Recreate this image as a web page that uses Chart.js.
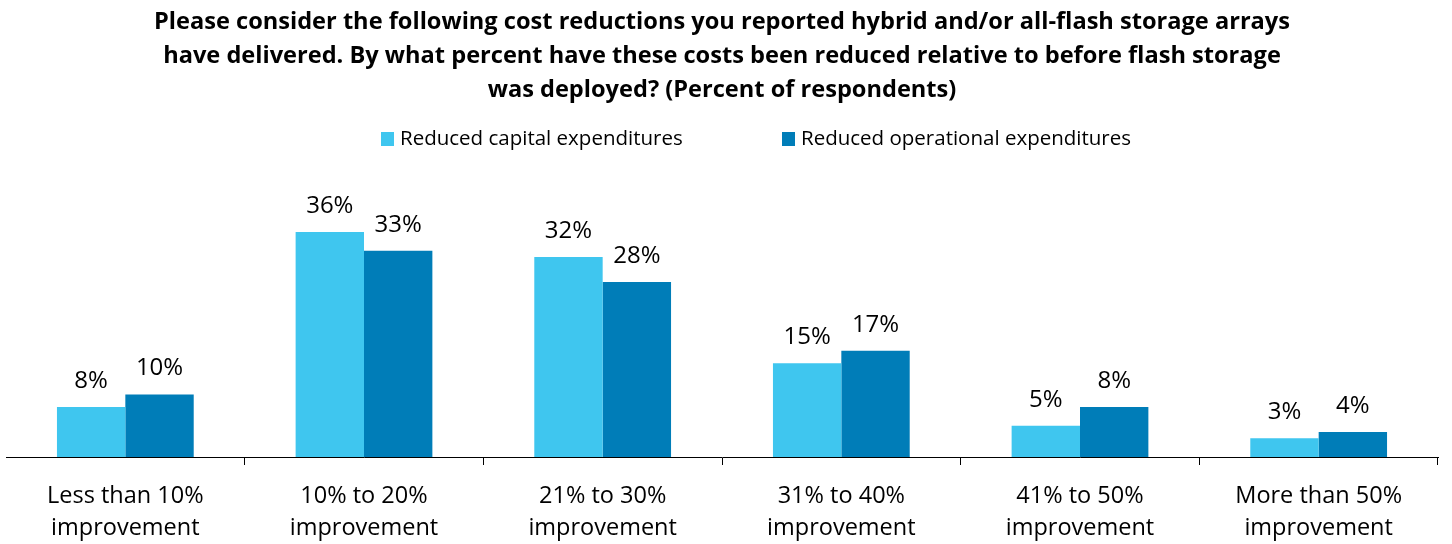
<!DOCTYPE html>
<html>
<head>
<meta charset="utf-8">
<script src="https://cdn.jsdelivr.net/npm/chart.js@4"></script>
<style>
  html, body { margin: 0; padding: 0; background: #fff; }
  #wrap { width: 1452px; height: 544px; }
</style>
</head>
<body>
<div id="wrap"><canvas id="costChart" width="1452" height="544"></canvas></div>
<script>
const categorias = [
    ['Less than 10%', 'improvement'],
    ['10% to 20%', 'improvement'],
    ['21% to 30%', 'improvement'],
    ['31% to 40%', 'improvement'],
    ['41% to 50%', 'improvement'],
    ['More than 50%', 'improvement']
];
const capex = [8, 36, 32, 15, 5, 3];
const opex = [10, 33, 28, 17, 8, 4];
const tituloLineas = [
    'Please consider the following cost reductions you reported hybrid and/or all-flash storage arrays',
    'have delivered. By what percent have these costs been reduced relative to before flash storage',
    'was deployed? (Percent of respondents)'
];
const nombresSeries = ['Reduced capital expenditures', 'Reduced operational expenditures'];
const coloresSeries = ['#3fc6ef', '#007db8'];

const FUENTE = '"Open Sans", Lato, sans-serif';

// etiquetas de valor encima de cada barra
const etiquetasValor = {
    id: 'etiquetasValor',
    afterDatasetsDraw(chart) {
        const ctx = chart.ctx;
        ctx.save();
        ctx.font = '24px ' + FUENTE;
        ctx.fillStyle = '#000';
        ctx.textAlign = 'center';
        ctx.textBaseline = 'bottom';
        chart.data.datasets.forEach((ds, i) => {
            chart.getDatasetMeta(i).data.forEach((bar, j) => {
                ctx.fillText(ds.data[j] + '%', bar.x, bar.y - 14);
            });
        });
        ctx.restore();
    }
};

// leyenda dibujada a mano para controlar la separacion
const leyendaManual = {
    id: 'leyendaManual',
    afterDraw(chart) {
        const ctx = chart.ctx;
        ctx.save();
        ctx.font = '20.5px ' + FUENTE;
        ctx.textBaseline = 'middle';
        const xs = [381, 782];
        const y = 139;
        chart.data.datasets.forEach((ds, i) => {
            ctx.fillStyle = ds.backgroundColor;
            ctx.fillRect(xs[i], y - 7, 13, 14);
            ctx.fillStyle = '#000';
            ctx.fillText(ds.label, xs[i] + 19, y);
        });
        ctx.restore();
    }
};

document.addEventListener('DOMContentLoaded', () => {
    new Chart(document.getElementById('costChart').getContext('2d'), {
        type: 'bar',
        data: {
            labels: categorias,
            datasets: [
                { label: nombresSeries[0], data: capex, backgroundColor: coloresSeries[0] },
                { label: nombresSeries[1], data: opex, backgroundColor: coloresSeries[1] }
            ]
        },
        options: {
            responsive: false,
            animation: false,
            categoryPercentage: 0.573,
            barPercentage: 1,
            layout: { padding: { left: 6, right: 14, top: 5, bottom: 0 } },
            plugins: {
                title: {
                    display: true,
                    text: tituloLineas,
                    color: '#000',
                    font: { family: FUENTE, size: 23.6, weight: 'bold', lineHeight: 1.44 },
                    padding: { top: 0, bottom: 100 }
                },
                legend: { display: false },
                tooltip: { enabled: false }
            },
            scales: {
                x: {
                    afterFit: (scale) => { scale.height = 87; },
                    grid: {
                        offset: true,
                        drawOnChartArea: false,
                        tickLength: 8,
                        color: (c) => c.index === 0 ? 'rgba(0,0,0,0)' : '#000'
                    },
                    border: { display: true, color: '#000', width: 1 },
                    ticks: {
                        color: '#000',
                        font: { family: FUENTE, size: 23.5, lineHeight: 1.36 },
                        padding: 15,
                        maxRotation: 0
                    }
                },
                y: {
                    display: false,
                    min: 0,
                    max: 40
                }
            }
        },
        plugins: [etiquetasValor, leyendaManual]
    });
});
</script>
</body>
</html>
